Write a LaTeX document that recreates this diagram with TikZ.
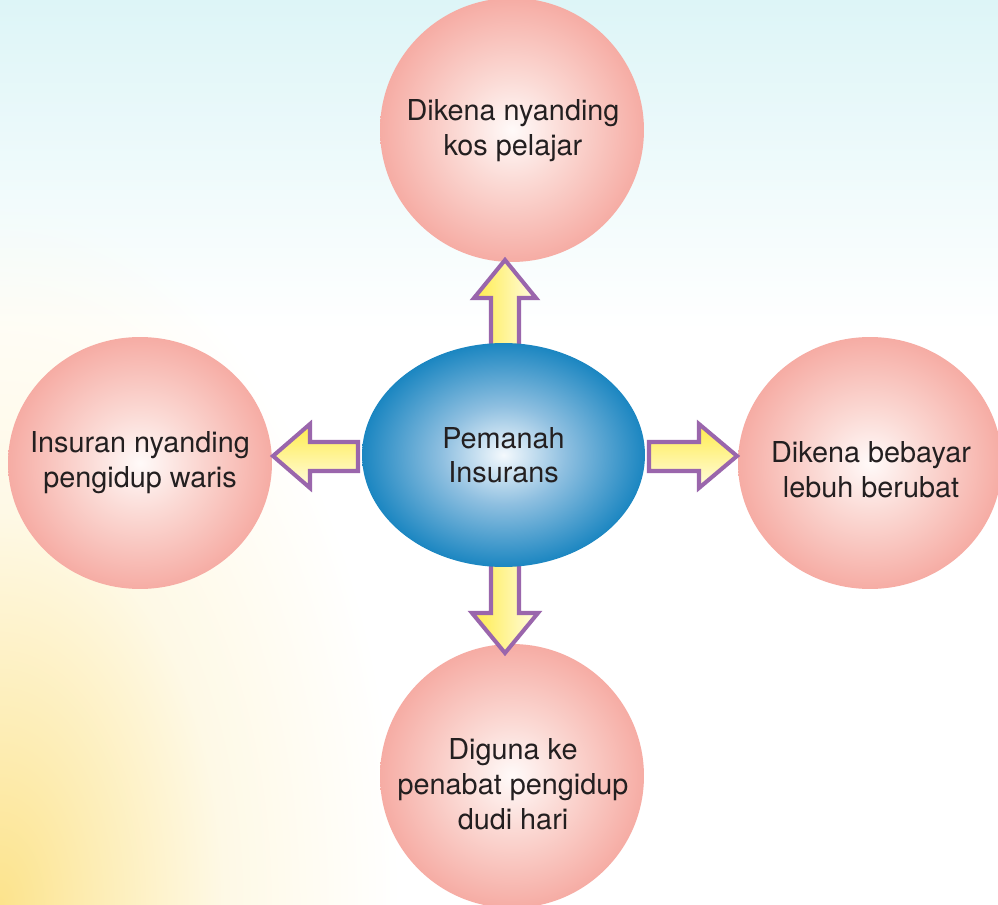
\documentclass[tikz,border=0pt]{standalone}
\usepackage{fontspec}
\setmainfont{TeX Gyre Heros}
\usetikzlibrary{shapes.geometric,calc}
\definecolor{txt}{HTML}{231F20}
\definecolor{pinkc}{HTML}{FFFAF9}
\definecolor{pinkm}{HTML}{FBDAD5}
\definecolor{pinke}{HTML}{F6ACA4}
\definecolor{bluec}{HTML}{F4F9FD}
\definecolor{bluem}{HTML}{8EBFE0}
\definecolor{bluee}{HTML}{1B86C1}
\definecolor{arrline}{HTML}{9A66AC}
\definecolor{arrdark}{HTML}{FFEC4A}
\definecolor{arrlight}{HTML}{FFFCE2}
\definecolor{skytop}{HTML}{DDF5F7}
\definecolor{yel}{HTML}{FCE38C}
\pgfdeclareradialshading{pinkball}{\pgfpoint{0bp}{0bp}}{color(0bp)=(pinkc); color(10bp)=(pinkm); color(25bp)=(pinke); color(50bp)=(pinke)}
\pgfdeclareradialshading{blueball}{\pgfpoint{0bp}{0bp}}{color(0bp)=(bluec); color(11bp)=(bluem); color(25bp)=(bluee); color(50bp)=(bluee)}
\pgfdeclareradialshading{yglow}{\pgfpoint{0bp}{0bp}}{color(0bp)=(yel); color(6bp)=(yel!65!white); color(14bp)=(yel!22!white); color(25bp)=(white); color(50bp)=(white)}
\tikzset{
  ball/.style={shape=ellipse, shading=pinkball, inner sep=0pt},
  lbl/.style={text=txt, align=center, inner sep=0pt, font=\fontsize{16.4}{19.8}\selectfont},
  hub/.style={shape=ellipse, shading=blueball, inner sep=0pt, text=txt, align=center,
    font=\fontsize{16.4}{19.4}\selectfont, minimum width=5.66cm, minimum height=4.48cm},
  blockarrow/.style={draw=arrline, line width=2.3pt, line join=miter},
  vfill/.style={left color=arrdark, right color=arrlight},
  hfill/.style={top color=arrdark, bottom color=arrlight}
}
\begin{document}
\begin{tikzpicture}[x=0.02cm,y=-0.02cm]
\clip (0,0) rectangle (998,905);
\fill[white] (0,0) rectangle (998,905);
\shade[top color=skytop, bottom color=white] (0,0) rectangle (998,330);
\begin{scope}[blend mode=multiply]
\shade[shading=yglow] (0,905) ellipse (400 and 700);
\end{scope}

\node[ball, minimum width=5.28cm, minimum height=5.28cm] (t) at (512,130) {};
\node[ball, minimum width=5.28cm, minimum height=5.04cm] (l) at (140,463) {};
\node[ball, minimum width=5.28cm, minimum height=5.04cm] (r) at (870,463) {};
\node[ball, minimum width=5.28cm, minimum height=5.28cm] (b) at (512,776) {};
\node[lbl] (tl) at ($(t)+(1,1)$) {Dikena nyanding\\kos pelajar};
\node[lbl] (ll) at ($(l)+(0,0)$) {Insuran nyanding\\pengidup waris};
\node[lbl] (rl) at ($(r)+(1,7)$) {Dikena bebayar\\lebuh berubat};
\node[lbl] (bl) at ($(b)+(1,8)$) {Diguna ke\\penabat pengidup\\dudi hari};

\path (503.5,455) coordinate (cc);
\coordinate (cn) at ($(cc)+(0,-112)$);
\coordinate (cs) at ($(cc)+(0,112)$);
\coordinate (cw) at ($(cc)+(-141.5,0)$);
\coordinate (ce) at ($(cc)+(141.5,0)$);

% up arrow
\draw[blockarrow, vfill] ($(cn)+(-12.5,9)$) -- ++(0,-54) -- ++(-17,0) -- ++(31,-38) -- ++(31,38) -- ++(-17,0) -- ++(0,54) -- cycle;
% down arrow
\draw[blockarrow, vfill] ($(cs)+(-12.5,-6)$) -- ++(0,52) -- ++(-19,0) -- ++(33,40) -- ++(33,-40) -- ++(-19,0) -- ++(0,-52) -- cycle;
% left arrow
\draw[blockarrow, hfill] ($(cw)+(-4,-13)$) -- ++(-48,0) -- ++(0,-18) -- ++(-37,32) -- ++(37,32) -- ++(0,-17) -- ++(48,0) -- cycle;
% right arrow
\draw[blockarrow, hfill] ($(ce)+(4,-13)$) -- ++(50,0) -- ++(0,-18) -- ++(38,32) -- ++(-38,32) -- ++(0,-17) -- ++(-50,0) -- cycle;

\node[hub] (c) at (cc) {Pemanah\\Insurans};
\end{tikzpicture}
\end{document}
